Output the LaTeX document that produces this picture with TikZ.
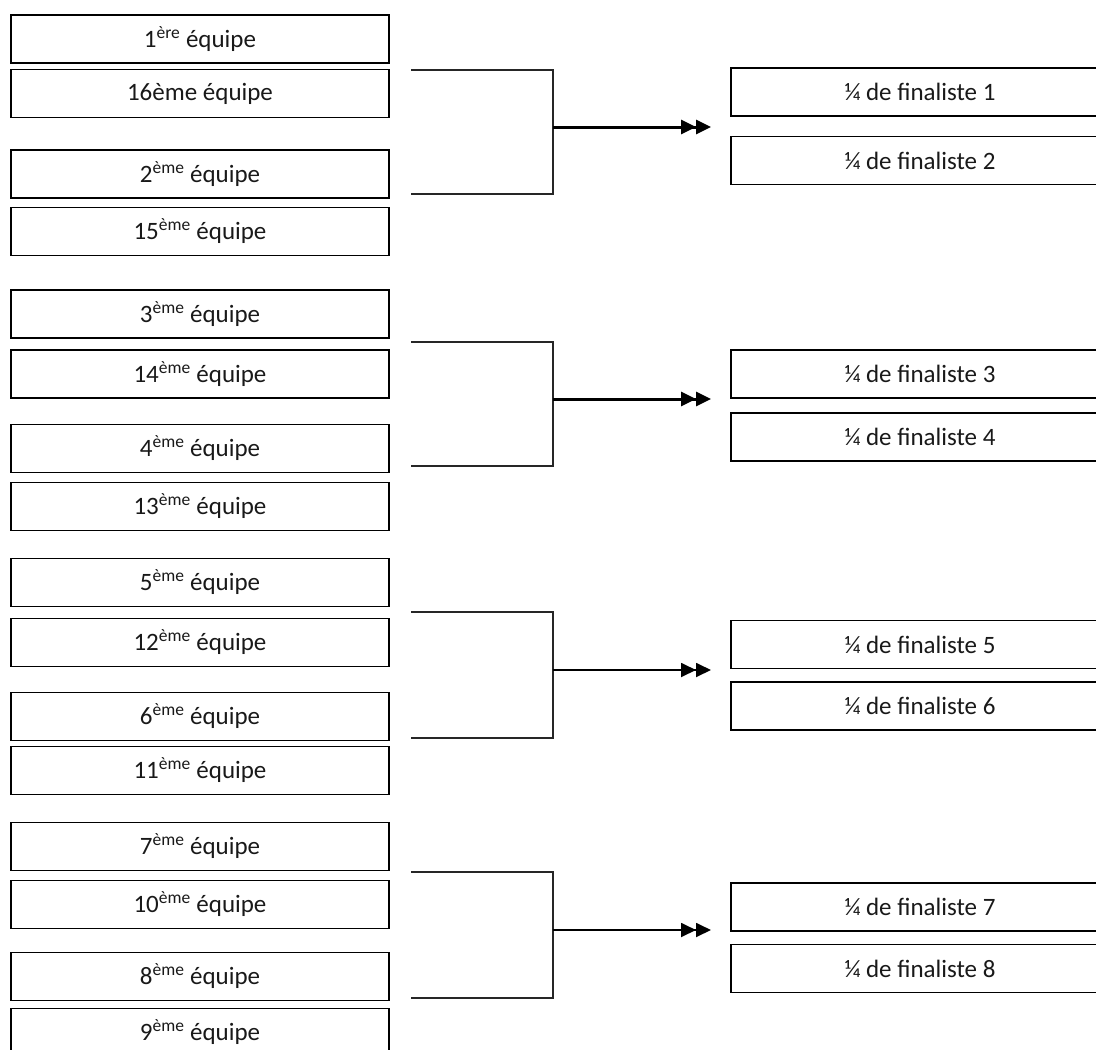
\documentclass[tikz,border=0pt]{standalone}
\usepackage{fontspec}
\setmainfont{Carlito}
\usepackage{tikz}
\usetikzlibrary{arrows.meta, calc}
\tikzstyle{team} = [rectangle, minimum width=378pt, minimum height=48pt, inner sep=0pt, text centered, draw=black, line width=1.5pt, text=black!90, font=\fontsize{25}{29}\selectfont]
\tikzstyle{quarter} = [team]
\tikzstyle{bracket} = [line width=1.5pt, black!85]
\tikzstyle{arrowthick} = [line width=3pt, -{Triangle[length=15pt,width=14pt]Triangle[length=15pt,width=14pt]}]
\tikzstyle{arrowthin} = [line width=1.8pt, -{Triangle[length=15pt,width=14pt]Triangle[length=15pt,width=14pt]}]

\begin{document}
\begin{tikzpicture}[x=1pt, y=-1pt]
\useasboundingbox (0,0) rectangle (1096,1050);

% Nodes
\node (t1) [team] at (200,39) {1\textsuperscript{ère} équipe};
\node (t16) [team] at (200,93.5) {16ème équipe};
\node (t2) [team] at (200,174) {2\textsuperscript{ème} équipe};
\node (t15) [team] at (200,231.5) {15\textsuperscript{ème} équipe};
\node (t3) [team] at (200,314) {3\textsuperscript{ème} équipe};
\node (t14) [team] at (200,374) {14\textsuperscript{ème} équipe};
\node (t4) [team] at (200,448.5) {4\textsuperscript{ème} équipe};
\node (t13) [team] at (200,506.5) {13\textsuperscript{ème} équipe};
\node (t5) [team] at (200,582.5) {5\textsuperscript{ème} équipe};
\node (t12) [team] at (200,642.5) {12\textsuperscript{ème} équipe};
\node (t6) [team] at (200,716.5) {6\textsuperscript{ème} équipe};
\node (t11) [team] at (200,770.5) {11\textsuperscript{ème} équipe};
\node (t7) [team] at (200,846.5) {7\textsuperscript{ème} équipe};
\node (t10) [team] at (200,904.5) {10\textsuperscript{ème} équipe};
\node (t8) [team] at (200,976.5) {8\textsuperscript{ème} équipe};
\node (t9) [team] at (200,1032.5) {9\textsuperscript{ème} équipe};

\node (qf1) [quarter] at (920,92) {¼ de finaliste 1};
\node (qf2) [quarter] at (920,160.5) {¼ de finaliste 2};
\node (qf3) [quarter] at (920,374) {¼ de finaliste 3};
\node (qf4) [quarter] at (920,437) {¼ de finaliste 4};
\node (qf5) [quarter] at (920,644.5) {¼ de finaliste 5};
\node (qf6) [quarter] at (920,706) {¼ de finaliste 6};
\node (qf7) [quarter] at (920,907) {¼ de finaliste 7};
\node (qf8) [quarter] at (920,968.5) {¼ de finaliste 8};

% Brackets
\coordinate (g1top) at (411,70);
\coordinate (g1bot) at (411,194);
\coordinate (g1mid) at (553,127);
\coordinate (g1end) at (711,127);
\coordinate (g2top) at (411,342);
\coordinate (g2bot) at (411,466);
\coordinate (g2mid) at (553,399);
\coordinate (g2end) at (711,399);
\coordinate (g3top) at (411,612);
\coordinate (g3bot) at (411,738);
\coordinate (g3mid) at (553,670);
\coordinate (g3end) at (711,670);
\coordinate (g4top) at (411,872);
\coordinate (g4bot) at (411,998);
\coordinate (g4mid) at (553,930);
\coordinate (g4end) at (711,930);

\draw [bracket] (g1top) -- (g1top -| g1mid) -- (g1bot -| g1mid) -- (g1bot);
\draw [bracket] (g2top) -- (g2top -| g2mid) -- (g2bot -| g2mid) -- (g2bot);
\draw [bracket] (g3top) -- (g3top -| g3mid) -- (g3bot -| g3mid) -- (g3bot);
\draw [bracket] (g4top) -- (g4top -| g4mid) -- (g4bot -| g4mid) -- (g4bot);

% Arrows
\draw [arrowthick] (g1mid) -- (g1end);
\draw [arrowthick] (g2mid) -- (g2end);
\draw [arrowthin] (g3mid) -- (g3end);
\draw [arrowthin] (g4mid) -- (g4end);
\end{tikzpicture}
\end{document}
